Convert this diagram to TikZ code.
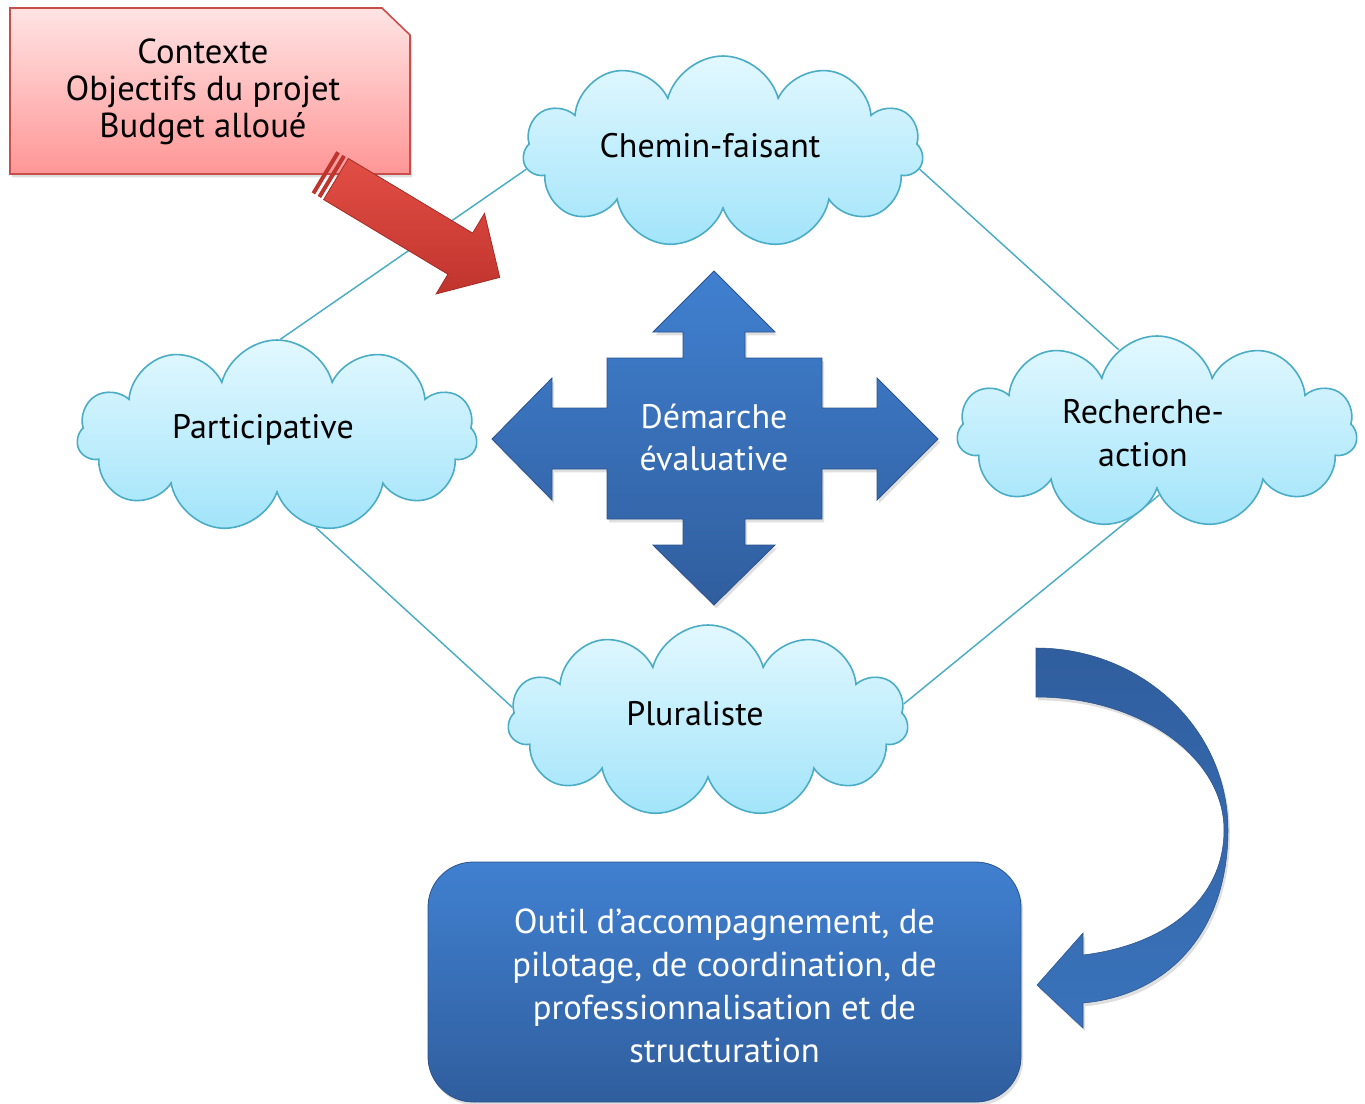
\documentclass[tikz,border=0pt]{standalone}
\usepackage{fontspec}
\setmainfont{PT Sans}
\usetikzlibrary{shapes.symbols,backgrounds,shadows}

\definecolor{cloudline}{RGB}{75,172,198}
\definecolor{cloudtop}{RGB}{226,248,255}
\definecolor{cloudbot}{RGB}{162,228,250}
\definecolor{redtop}{RGB}{255,228,228}
\definecolor{redbot}{RGB}{255,150,150}
\definecolor{redline}{RGB}{200,78,75}
\definecolor{arrowlight}{RGB}{226,78,68}
\definecolor{arrowdark}{RGB}{192,52,46}
\definecolor{bluetop}{RGB}{64,128,208}
\definecolor{bluebot}{RGB}{48,94,158}
\definecolor{blueline}{RGB}{42,82,140}

\tikzset{every picture/.style={line width=0.75pt}}
\tikzset{
	cloudbox/.style={cloud, cloud puffs=11, cloud ignores aspect, minimum width=300pt, minimum height=144pt,
		draw=cloudline, line width=1.2pt, top color=cloudtop, bottom color=cloudbot, inner sep=0pt},
	cloudtext/.style={font=\fontsize{25.5}{32}\selectfont, align=center},
	linkline/.style={draw=cloudline, line width=1.1pt},
	softshadow/.style={drop shadow={shadow xshift=1.5pt, shadow yshift=-2.5pt, opacity=0.25}},
}

\begin{document}
\begin{tikzpicture}[x=0.75pt,y=0.75pt,yscale=-1,xscale=1]
	\useasboundingbox (0,0) rectangle (1365,1104);
	
	%Shape: Cloud
	\node[cloudbox] (chemin) at (723,152) {};
	%Shape: Cloud
	\node[cloudbox] (partic) at (277,436) {};
	%Shape: Cloud
	\node[cloudbox] (recherche) at (1157,432) {};
	%Shape: Cloud
	\node[cloudbox] (plural) at (708,721) {};
	
	%Straight Lines
	\begin{scope}[on background layer]
	\draw[linkline] (chemin.185) -- (partic.88) ;
	\draw[linkline] (chemin.355) -- (recherche.115) ;
	\draw[linkline] (partic.293) -- (plural.176) ;
	\draw[linkline] (plural.5) -- (recherche.272) ;
	\end{scope}
	
	%Shape: Snip Rectangle
	\path[softshadow, top color=redtop, bottom color=redbot, draw=redline, line width=1.2pt] (10,8) -- (382,8) -- (410,35) -- (410,174) -- (10,174) -- cycle ;
	
	%Shape: Right Arrow
	\begin{scope}[shift={(336,179)}, rotate=31]
	\fill[arrowdark] (-14,-24) rectangle (-10,24) ;
	\fill[arrowdark] (-7,-24) rectangle (-3,24) ;
	\path[top color=arrowlight, bottom color=arrowdark, draw=arrowdark!85!black, line width=0.6pt] (0,-24) -- (145,-24) -- (145,-47) -- (191,0) -- (145,47) -- (145,24) -- (0,24) -- cycle ;
	\end{scope}
	
	%Shape: Quad Arrow
	\path[softshadow, top color=bluetop, bottom color=bluebot, draw=blueline, line width=0.6pt] (714,271) -- (775,332) -- (745,332) -- (745,358) -- (822,358) -- (822,408) -- (877,408) -- (877,378) -- (938,439) -- (877,500) -- (877,469) -- (822,469) -- (822,519) -- (745,519) -- (745,545) -- (775,545) -- (714,605) -- (653,545) -- (683,545) -- (683,519) -- (607,519) -- (607,469) -- (552,469) -- (552,500) -- (492,439) -- (552,378) -- (552,408) -- (607,408) -- (607,358) -- (683,358) -- (683,332) -- (653,332) -- cycle ;
	
	%Shape: Rounded Rectangle
	\node[softshadow, rounded corners=34pt, minimum width=444.75pt, minimum height=180pt, top color=bluetop, bottom color=bluebot, draw=blueline, line width=0.6pt, text=white, align=center, font=\fontsize{26}{32.25}\selectfont] (outil) at (724.5,982) {};
	
	%Curve Lines
	\path[softshadow, top color=bluebot, bottom color=bluetop!90!black, draw=blueline, line width=0.4pt] (1036,648) .. controls (1142,648) and (1228,729) .. (1228,830) .. controls (1228,930) and (1170,995) .. (1083,1003) -- (1083,1028) -- (1037,985) -- (1083,933) -- (1083,955) .. controls (1165,945) and (1224,900) .. (1224,830) .. controls (1224,757) and (1140,697) .. (1036,697) -- cycle ;
	
	% Text Node
	\node[font=\fontsize{26}{32.25}\selectfont, align=center, text=white] (outillabel) at ([shift={(0,4)}]outil.center) {Outil d’accompagnement, de\\pilotage, de coordination, de\\professionnalisation et de\\structuration};
	% Text Node
	\node[font=\fontsize{26}{27.75}\selectfont, align=center] (contexte) at (203,92) {Contexte\\Objectifs du projet\\Budget alloué};
	% Text Node
	\node[font=\fontsize{25.5}{31.5}\selectfont, align=center, text=white] (demarche) at (714,437) {Démarche\\évaluative};
	% Text Node
	\node[cloudtext] (cheminlabel) at ([shift={(-13,-6)}]chemin.center) {Chemin-faisant};
	% Text Node
	\node[cloudtext] (particlabel) at ([shift={(-14,-6)}]partic.center) {Participative};
	% Text Node
	\node[cloudtext] (recherchelabel) at ([shift={(-14,1)}]recherche.center) {Recherche-\\action};
	% Text Node
	\node[cloudtext] (plurallabel) at ([shift={(-13,-7)}]plural.center) {Pluraliste};
	
\end{tikzpicture}
\end{document}
